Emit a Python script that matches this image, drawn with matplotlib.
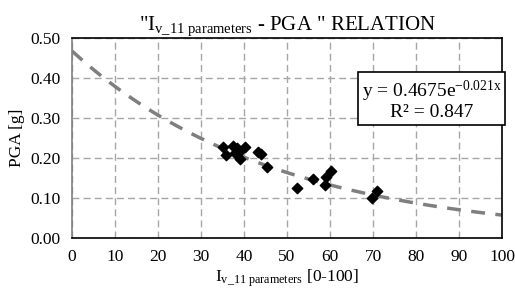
import numpy as np
import matplotlib.pyplot as plt

plt.rcParams['font.family'] = 'Liberation Serif'
plt.rcParams['mathtext.fontset'] = 'custom'
plt.rcParams['mathtext.rm'] = 'Liberation Serif'
plt.rcParams['mathtext.it'] = 'Liberation Serif:italic'

# datos
iv = [35.0, 35.7, 37.5, 38.3, 38.9, 39.1, 40.2, 37.9, 43.3, 44.0, 45.4,
      52.3, 56.1, 59.1, 60.2, 58.8, 69.7, 71.0]
pga = [0.228, 0.207, 0.231, 0.224, 0.216, 0.197, 0.228, 0.212, 0.216, 0.209, 0.178,
       0.124, 0.147, 0.153, 0.168, 0.133, 0.100, 0.118]

# coeficientes de la línea de tendencia
a = 0.4675
b = -0.021
r2 = 0.847

fig = plt.figure(figsize=(5.15, 2.93), dpi=100)
ax = fig.add_axes([0.1398, 0.1877, 0.835, 0.6826])

xs = np.linspace(0, 100, 200)
ax.plot(xs, a * np.exp(b * xs), color='#7f7f7f', lw=2.5, ls=(0, (4, 3)), zorder=2)
ax.scatter(iv, pga, marker='D', s=28, color='black', zorder=3)

ax.set_xlim(0, 100)
ax.set_ylim(0, 0.5)
ax.set_xticks(range(0, 101, 10))
ax.set_yticks(np.arange(0, 0.51, 0.1))
ax.set_yticklabels(['%.2f' % v for v in np.arange(0, 0.51, 0.1)])
ax.grid(True, color='#a6a6a6', ls=(0, (5, 3)), lw=1)
ax.tick_params(axis='both', labelsize=12.5, length=0, pad=8)
for s in ax.spines.values():
    s.set_color('black')
    s.set_linewidth(1.2)
ax.spines['left'].set_color('#808080')

ax.set_title(r'"I$_{\mathrm{v\_11\ parameters}}$ - PGA " RELATION', fontsize=15, pad=5)
ax.set_xlabel(r'I$_{\mathrm{v\_11\ parameters}}$ [0-100]', fontsize=12.5, labelpad=2)
ax.set_ylabel('PGA [g]', fontsize=12.5, labelpad=4)

ax.text(0.836, 0.69, r'y = %.4fe$^{\mathrm{%.3fx}}$' % (a, b) + '\nR² = %.3f' % r2,
        transform=ax.transAxes, ha='center', va='center', fontsize=14,
        linespacing=0.95,
        bbox=dict(boxstyle='square,pad=0.2', fc='white', ec='black', lw=1.2))

fig.savefig('out.png', dpi=100)
